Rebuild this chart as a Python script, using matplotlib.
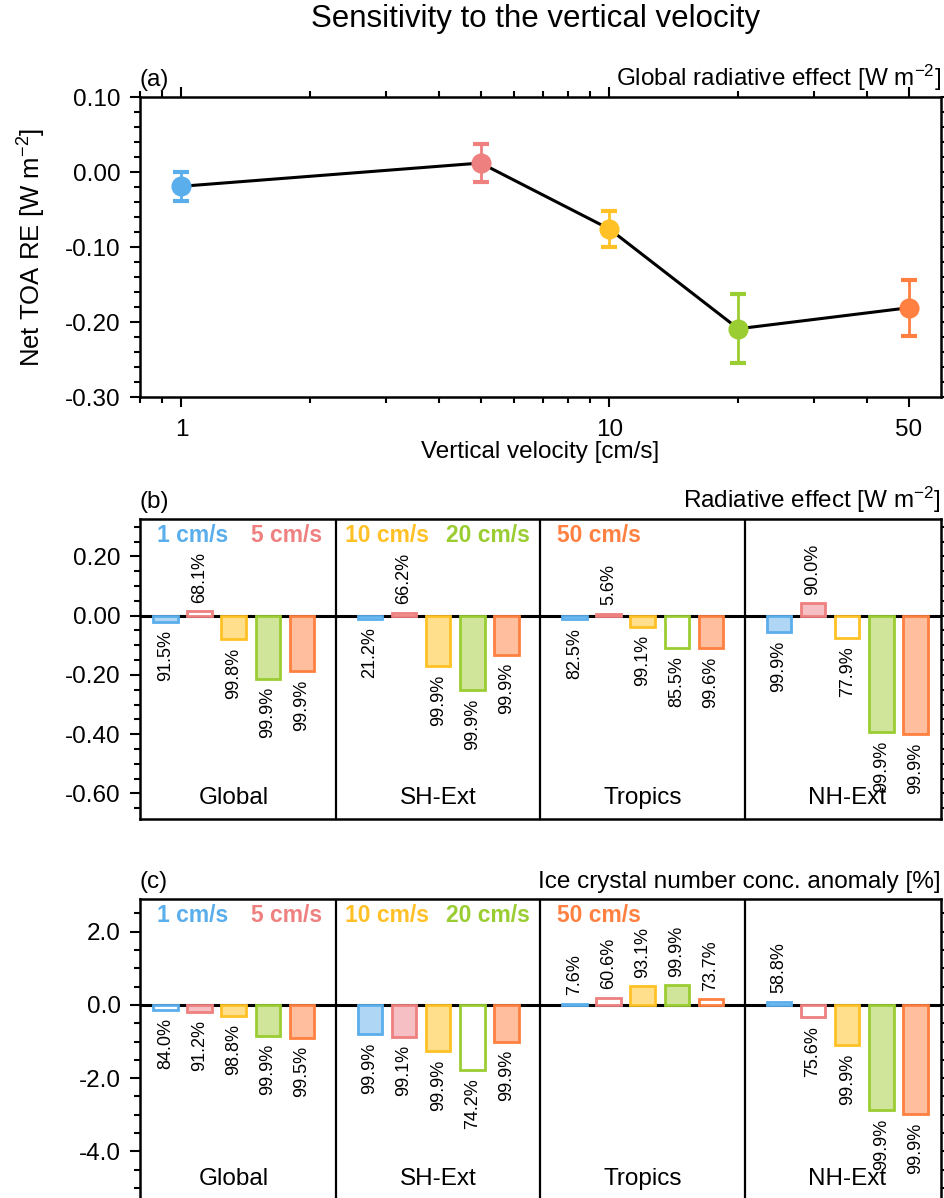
import matplotlib
matplotlib.use("Agg")
import matplotlib.pyplot as plt
from matplotlib.ticker import MultipleLocator, FixedLocator, NullFormatter, FormatStrFormatter

plt.rcParams['font.family'] = ['Liberation Sans', 'DejaVu Sans']
plt.rcParams['mathtext.fontset'] = 'custom'
plt.rcParams['mathtext.rm'] = 'Liberation Sans'
plt.rcParams['mathtext.default'] = 'regular'

# data
velocity = [1, 5, 10, 20, 50]
vel_labels = ["1 cm/s", "5 cm/s", "10 cm/s", "20 cm/s", "50 cm/s"]
regions = ["Global", "SH-Ext", "Tropics", "NH-Ext"]

global_re = [-0.019, 0.012, -0.076, -0.209, -0.181]
global_re_err = [0.019, 0.025, 0.024, 0.046, 0.037]

# radiative effect per region (rows) and velocity (columns)
re_values = [[-0.02, 0.015, -0.08, -0.213, -0.187],
             [-0.012, 0.01, -0.171, -0.252, -0.132],
             [-0.013, 0.006, -0.038, -0.109, -0.109],
             [-0.056, 0.043, -0.075, -0.393, -0.40]]
re_signif = [[91.5, 68.1, 99.8, 99.9, 99.9],
             [21.2, 66.2, 99.9, 99.9, 99.9],
             [82.5, 5.6, 99.1, 85.5, 99.6],
             [99.9, 90.0, 77.9, 99.9, 99.9]]

# ice crystal number concentration anomaly [%]
icnc_values = [[-0.14, -0.18, -0.3, -0.84, -0.9],
               [-0.8, -0.87, -1.27, -1.78, -1.0],
               [0.04, 0.2, 0.52, 0.55, 0.16],
               [0.09, -0.34, -1.1, -2.87, -2.98]]
icnc_signif = [[84.0, 91.2, 98.8, 99.9, 99.5],
               [99.9, 99.1, 99.9, 74.2, 99.9],
               [7.6, 60.6, 93.1, 99.9, 73.7],
               [58.8, 75.6, 99.9, 99.9, 99.9]]

line_colors = ["#5aaeec", "#ee8080", "#ffc125", "#9acd32", "#ff8040"]
fill_colors = ["#b0d6f5", "#f5bfc3", "#ffdf8c", "#d0e59a", "#ffbf9e"]

FS = 17.5

fig = plt.figure(figsize=(9.45, 11.98), dpi=100)


def style_axes(ax):
    for sp in ax.spines.values():
        sp.set_linewidth(1.8)
    ax.tick_params(which='both', direction='out', width=1.5, labelsize=FS)
    ax.tick_params(which='major', length=7, pad=7)
    ax.tick_params(which='minor', length=4)


# panel (a)
ax_a = fig.add_axes([0.1481, 0.6686, 0.8476, 0.2504])
ax_a.plot(velocity, global_re, color='black', lw=2.2, zorder=2)
for i in range(len(velocity)):
    ax_a.errorbar(velocity[i], global_re[i], yerr=global_re_err[i], fmt='o',
                  color=line_colors[i], ms=13.5, elinewidth=2, capsize=6,
                  capthick=3, zorder=3)
ax_a.set_xscale('log')
ax_a.set_xlim(0.8, 59.5)
ax_a.set_ylim(-0.30, 0.10)
ax_a.xaxis.set_major_locator(FixedLocator([1, 10, 50]))
ax_a.xaxis.set_minor_locator(FixedLocator([0.8, 0.9, 2, 3, 4, 5, 6, 7, 8, 9, 20, 30, 40]))
ax_a.xaxis.set_major_formatter(FormatStrFormatter('%d'))
ax_a.xaxis.set_minor_formatter(NullFormatter())
ax_a.yaxis.set_major_locator(MultipleLocator(0.1))
ax_a.yaxis.set_minor_locator(MultipleLocator(0.02))
ax_a.yaxis.set_major_formatter(FormatStrFormatter('%.2f'))
style_axes(ax_a)
ax_a.tick_params(top=True, right=True, which='both')
ax_a.tick_params(axis='x', pad=9)
ax_a.set_xlabel("Vertical velocity [cm/s]", fontsize=FS, labelpad=0)
ax_a.set_ylabel("Net TOA RE [W m$^{-2}$]", fontsize=18.5, labelpad=12)
ax_a.set_title("(a)", loc='left', fontsize=FS, pad=8)
ax_a.set_title("Global radiative effect [W m$^{-2}$]", loc='right', fontsize=FS, pad=8)
fig.text(0.567, 0.984, "Sensitivity to the vertical velocity", fontsize=22.5,
         ha='center', va='center')


def bar_panel(ax, values, signif, ylim, major, minor, fmt, letter, header):
    for g in range(len(regions)):
        for i in range(len(velocity)):
            x = g * 6 + i + 1
            v = values[g][i]
            # filled bars where significance >= 90 %
            face = fill_colors[i] if signif[g][i] >= 90 else 'white'
            ax.bar(x, v, width=0.72, color=face, edgecolor=line_colors[i],
                   linewidth=2, zorder=3)
            off = 6 if v >= 0 else -6
            ax.annotate("%.1f%%" % signif[g][i], (x, v), xytext=(0, off),
                        textcoords='offset points', rotation=90, ha='center',
                        va='bottom' if v >= 0 else 'top', fontsize=13)
        ax.text(g * 6 + 3, 0.07, regions[g], fontsize=FS, ha='center',
                va='center', zorder=4, transform=ax.get_xaxis_transform())
    for g in range(1, len(regions)):
        ax.axvline(g * 6, color='black', lw=1.6, zorder=2)
    ax.axhline(0, color='black', lw=2.2, zorder=2)
    ax.set_xlim(0.25, 23.75)
    ax.set_ylim(*ylim)
    ax.set_xticks([])
    ax.yaxis.set_major_locator(MultipleLocator(major))
    ax.yaxis.set_minor_locator(MultipleLocator(minor))
    ax.yaxis.set_major_formatter(FormatStrFormatter(fmt))
    style_axes(ax)
    ax.tick_params(axis='y', which='both', right=True)
    ax.set_title(letter, loc='left', fontsize=FS, pad=8)
    ax.set_title(header, loc='right', fontsize=FS, pad=8)
    legend_x = [0.021, 0.139, 0.256, 0.382, 0.521]
    for i in range(len(vel_labels)):
        ax.text(legend_x[i], 0.945, vel_labels[i], color=line_colors[i],
                fontsize=16.5, fontweight='bold', transform=ax.transAxes,
                ha='left', va='center')


ax_b = fig.add_axes([0.1481, 0.3164, 0.8476, 0.2504])
bar_panel(ax_b, re_values, re_signif, (-0.686, 0.326), 0.2, 0.05, '%.2f',
          "(b)", "Radiative effect [W m$^{-2}$]")
ax_c = fig.add_axes([0.1481, -0.0017, 0.8476, 0.2513])
bar_panel(ax_c, icnc_values, icnc_signif, (-5.33, 2.896), 2.0, 0.5, '%.1f',
          "(c)", "Ice crystal number conc. anomaly [%]")

fig.savefig("out.png", dpi=100)
